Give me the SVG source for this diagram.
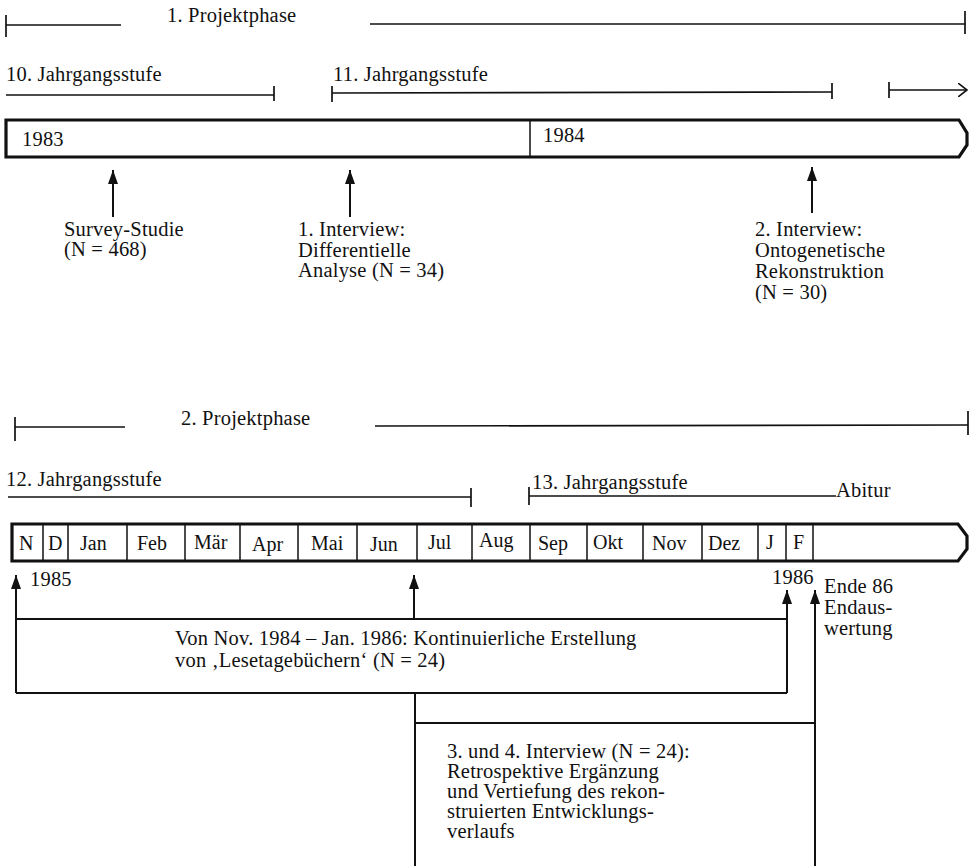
<svg xmlns="http://www.w3.org/2000/svg" width="977" height="866" viewBox="0 0 977 866">
<defs>
<style>
text{font-family:"Liberation Serif","Times New Roman",serif;font-size:20.5px;letter-spacing:0.2px;fill:#111}
.ln{stroke:#111;stroke-width:1.7;fill:none}
.bar{stroke:#111;stroke-width:3.2;fill:#fff}
.div{stroke:#111;stroke-width:1.5}
.sh{stroke:#111;stroke-width:2;fill:none}
.m{font-size:20px;letter-spacing:0px}
</style>
<marker id="ah" viewBox="0 0 14 10" refX="14" refY="5" markerWidth="14" markerHeight="10" markerUnits="userSpaceOnUse" orient="auto">
<path d="M0,0 L14,5 L0,10 Z" fill="#111"/>
</marker>
<marker id="oh" viewBox="0 0 10 14" refX="9" refY="7" markerWidth="10" markerHeight="14" markerUnits="userSpaceOnUse" orient="auto">
<path d="M0,0 L9,7 L0,14" fill="none" stroke="#111" stroke-width="1.6"/>
</marker>
</defs>
<rect width="977" height="866" fill="#fff"/>

<g id="phase1">
<line class="ln" x1="6" y1="15" x2="6" y2="37"/>
<line class="ln" x1="6" y1="25" x2="121" y2="25"/>
<text x="167" y="22">1. Projektphase</text>
<line class="ln" x1="370" y1="24" x2="965" y2="24"/>
<line class="ln" x1="965" y1="11" x2="965" y2="34"/>
</g>

<g id="stufe10">
<text x="6" y="81">10. Jahrgangsstufe</text>
<line class="ln" x1="6" y1="95" x2="274" y2="95"/>
<line class="ln" x1="274" y1="86" x2="274" y2="101"/>
</g>

<g id="stufe11">
<text x="333" y="81">11. Jahrgangsstufe</text>
<line class="ln" x1="332" y1="86" x2="332" y2="102"/>
<line class="ln" x1="332" y1="93" x2="832" y2="92"/>
<line class="ln" x1="832" y1="83" x2="832" y2="99"/>
</g>

<g id="stufe12-cont">
<line class="ln" x1="889" y1="82" x2="889" y2="98"/>
<line class="ln" x1="889" y1="90" x2="967" y2="90" marker-end="url(#oh)"/>
</g>

<g id="timeline1">
<path class="bar" d="M6,120 L959,120 L967,133 L967,145 L959,157 L6,157 Z"/>
<line class="div" x1="530" y1="120" x2="530" y2="157"/>
<text x="22" y="146">1983</text>
<text x="543" y="142">1984</text>
</g>

<g id="survey">
<text x="64" y="236">Survey-Studie</text>
<text x="64" y="256">(N = 468)</text>
</g>

<g id="interview1">
<text x="298" y="236">1. Interview:</text>
<text x="298" y="257">Differentielle</text>
<text x="298" y="277">Analyse (N = 34)</text>
</g>

<g id="interview2">
<text x="755" y="236">2. Interview:</text>
<text x="755" y="257">Ontogenetische</text>
<text x="755" y="278">Rekonstruktion</text>
<text x="755" y="299">(N = 30)</text>
</g>

<g id="phase2">
<line class="ln" x1="15" y1="417" x2="15" y2="441"/>
<line class="ln" x1="15" y1="427" x2="125" y2="427"/>
<text x="181" y="425">2. Projektphase</text>
<line class="ln" x1="375" y1="426" x2="968" y2="425"/>
<line class="ln" x1="968" y1="411" x2="968" y2="435"/>
</g>

<g id="stufe12">
<text x="6" y="486">12. Jahrgangsstufe</text>
<line class="ln" x1="8" y1="497" x2="471" y2="497"/>
<line class="ln" x1="471" y1="488" x2="471" y2="507"/>
</g>

<g id="stufe13">
<line class="ln" x1="529" y1="487" x2="529" y2="505"/>
<text x="532" y="489">13. Jahrgangsstufe</text>
<line class="ln" x1="529" y1="496" x2="836" y2="496"/>
<text x="836" y="497">Abitur</text>
</g>

<g id="timeline2">
<path class="bar" d="M12,524 L958,524 L967,536 L967,549 L958,561 L12,561 Z"/>
<g class="div">
<line x1="43" y1="524" x2="43" y2="561"/>
<line x1="68" y1="524" x2="68" y2="561"/>
<line x1="127" y1="524" x2="127" y2="561"/>
<line x1="185" y1="524" x2="185" y2="561"/>
<line x1="240" y1="524" x2="240" y2="561"/>
<line x1="298" y1="524" x2="298" y2="561"/>
<line x1="357" y1="524" x2="357" y2="561"/>
<line x1="417" y1="524" x2="417" y2="561"/>
<line x1="472" y1="524" x2="472" y2="561"/>
<line x1="530" y1="524" x2="530" y2="561"/>
<line x1="587" y1="524" x2="587" y2="561"/>
<line x1="643" y1="524" x2="643" y2="561"/>
<line x1="702" y1="524" x2="702" y2="561"/>
<line x1="758" y1="524" x2="758" y2="561"/>
<line x1="786" y1="524" x2="786" y2="561"/>
<line x1="813" y1="524" x2="813" y2="561"/>
</g>
<text class="m" x="19" y="550">N</text>
<text class="m" x="48" y="550">D</text>
<text class="m" x="80" y="550">Jan</text>
<text class="m" x="137" y="550">Feb</text>
<text class="m" x="194" y="549">Mär</text>
<text class="m" x="252" y="551">Apr</text>
<text class="m" x="311" y="550">Mai</text>
<text class="m" x="370" y="551">Jun</text>
<text class="m" x="428" y="549">Jul</text>
<text class="m" x="479" y="547">Aug</text>
<text class="m" x="538" y="550">Sep</text>
<text class="m" x="593" y="549">Okt</text>
<text class="m" x="652" y="550">Nov</text>
<text class="m" x="708" y="550">Dez</text>
<text class="m" x="766" y="549">J</text>
<text class="m" x="793" y="549">F</text>
</g>

<g id="year1985"><text x="30" y="586">1985</text></g>
<g id="year1986"><text x="772" y="584">1986</text></g>

<g id="endauswertung">
<text x="824" y="593">Ende 86</text>
<text x="824" y="614">Endaus-</text>
<text x="824" y="635">wertung</text>
</g>

<g id="lesetagebuecher">
<line class="sh" x1="16" y1="619" x2="787" y2="619"/>
<line class="sh" x1="16" y1="693" x2="787" y2="693"/>
<text x="175" y="645">Von Nov. 1984 – Jan. 1986: Kontinuierliche Erstellung</text>
<text x="175" y="667">von ‚Lesetagebüchern‘ (N = 24)</text>
</g>

<g id="interview34">
<line class="sh" x1="415" y1="723" x2="815" y2="723"/>
<text x="447" y="758">3. und 4. Interview (N = 24):</text>
<text x="447" y="778">Retrospektive Ergänzung</text>
<text x="447" y="798">und Vertiefung des rekon-</text>
<text x="447" y="818">struierten Entwicklungs-</text>
<text x="447" y="838">verlaufs</text>
</g>

<g id="connectors">
<line class="sh" x1="113" y1="217" x2="113" y2="170" marker-end="url(#ah)"/>
<line class="sh" x1="350" y1="217" x2="350" y2="170" marker-end="url(#ah)"/>
<line class="sh" x1="812" y1="213" x2="812" y2="167" marker-end="url(#ah)"/>
<line class="sh" x1="16" y1="693" x2="16" y2="575" marker-end="url(#ah)"/>
<line class="sh" x1="414" y1="619" x2="414" y2="575" marker-end="url(#ah)"/>
<line class="sh" x1="787" y1="693" x2="787" y2="590" marker-end="url(#ah)"/>
<line class="sh" x1="415" y1="866" x2="415" y2="693"/>
<line class="sh" x1="815" y1="866" x2="815" y2="590" marker-end="url(#ah)"/>
</g>
</svg>
